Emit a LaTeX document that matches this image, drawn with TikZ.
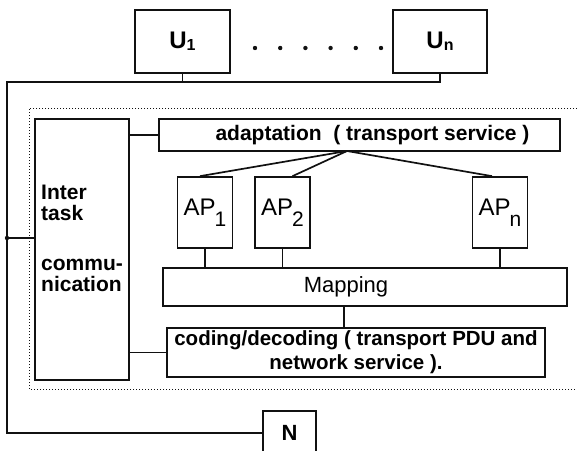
\documentclass[tikz,border=0pt]{standalone}
\usepackage{fontspec}
\setmainfont{Liberation Sans}
\usepackage{tikz}
\usepackage{xcolor}
\usetikzlibrary{positioning,calc}
\definecolor{pen}{HTML}{111111}
\tikzset{
  unitbox/.style={draw=pen,line width=1.7pt,inner sep=0pt,
                  font=\fontsize{24}{26}\selectfont\bfseries},
  layerbox/.style={draw=pen,line width=1.7pt,inner sep=0pt,align=center,
                   font=\fontsize{20.5}{24}\selectfont\bfseries},
  apbox/.style={draw=pen,line width=1.7pt,inner sep=0pt,
                minimum width=55pt,minimum height=71pt,
                font=\fontsize{24}{26}\selectfont},
  sidetext/.style={anchor=west,align=left,inner sep=0pt,
                   font=\fontsize{21}{21}\selectfont\bfseries},
  wire/.style={draw=pen,line width=1.7pt},
  dotframe/.style={draw=pen,line width=1pt,dotted}
}
\newcommand{\usub}[1]{\raisebox{-2pt}{\fontsize{16}{16}\selectfont #1}}
\newcommand{\apsub}[1]{\kern-1pt\raisebox{-11pt}{\fontsize{21}{21}\selectfont #1}}
\begin{document}
\begin{tikzpicture}[x=1pt,y=-1pt]
  \useasboundingbox (0,0) rectangle (577,450);
  % users on top
  \node[unitbox,minimum width=95pt,minimum height=63pt] (u1) at (182.5,41.5) {U\usub{1}};
  \node[unitbox,minimum width=94pt,minimum height=63pt] (un) at (440,41.5) {U\usub{n}};
  \foreach \k in {0,...,5} {
    \fill[pen] (255+25.2*\k,48) circle (2.2pt);
  }
  % network entity
  \node[unitbox,font=\fontsize{22}{24}\selectfont\bfseries,
        minimum width=53pt,minimum height=44pt] (n) at (289.5,433) {N};
  % bus
  \coordinate (busL) at (7,82);
  \coordinate (tap) at (7,238);
  \draw[wire] (u1.south) -- (u1.south |- busL);
  \draw[wire] (un.south) |- (busL) |- (n.west);
  % transport entity
  \draw[dotframe] (577,108) -- (29,108) -- (29,389) -- (577,389);
  \node[layerbox,minimum width=94pt,minimum height=261pt] (itc) at (82,249.5) {};
  \node[sidetext] (itctop) at (41,203) {Inter\\task};
  \node[sidetext] (itcbot) at (41,275) {commu-\\nication};
  \fill[pen] (tap) circle (2.2pt);
  \draw[wire] (tap) -- (tap -| itc.west);
  \node[layerbox,font=\fontsize{21}{24}\selectfont\bfseries,
        minimum width=401pt,minimum height=32pt] (adapt) at (359.5,135)
    {\hspace*{26pt}adaptation~~( transport service )};
  \node[apbox] (ap1) at (205,212.5) {AP\apsub{1}};
  \node[apbox] (ap2) at (282.5,212.5) {AP\apsub{2}};
  \node[apbox] (apn) at (500,212.5) {AP\apsub{n}};
  \node[layerbox,font=\fontsize{22}{24}\selectfont,minimum width=404pt,minimum height=38pt]
    (map) at (365,287) {Mapping\hspace*{38pt}};
  \node[layerbox,minimum width=378pt,minimum height=49pt] (cod) at (356,352.5)
    {coding/decoding ( transport PDU and\\network service ).};
  % links
  \coordinate (fan) at (347,151);
  \draw[wire] (fan) -- ($(ap1.north)+(-5,0)$);
  \draw[wire] (fan) -- ($(ap2.north)+(10,0)$);
  \draw[wire] (fan) -- ($(apn.north)+(-8,0)$);
  \foreach \a in {ap1,ap2,apn} {
    \draw[wire] (\a.south) -- (\a.south |- map.north);
  }
  \coordinate[left=21pt of map.south] (mc);
  \draw[wire] (mc) -- (mc |- cod.north);
  \draw[wire] (itc.east |- adapt.west) -- (adapt.west);
  \draw[wire] (itc.east |- cod.west) -- (cod.west);
\end{tikzpicture}
\end{document}
